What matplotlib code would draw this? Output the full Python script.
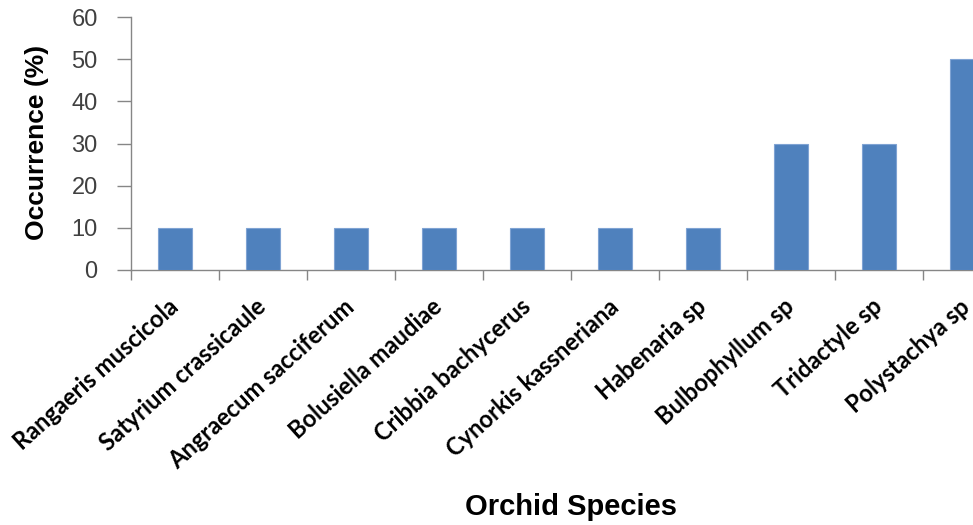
import matplotlib.pyplot as plt
import numpy as np

species = ['Rangaeris muscicola', 'Satyrium crassicaule', 'Angraecum sacciferum',
           'Bolusiella maudiae', 'Cribbia bachycerus', 'Cynorkis kassneriana',
           'Habenaria sp', 'Bulbophyllum sp', 'Tridactyle sp', 'Polystachya sp']
occurrence = [10, 10, 10, 10, 10, 10, 10, 30, 30, 50]
yticks = [0, 10, 20, 30, 40, 50, 60]

axis_col = '#868686'

fig = plt.figure(figsize=(9.73, 5.25), dpi=100)
# axes runs off the right edge like in the original
ax = fig.add_axes([131/973, 255/525, 880/973, 253/525])

x = np.arange(len(species))
ax.bar(x, occurrence, width=0.39, color='#4F81BD', edgecolor='#7FA3D3', linewidth=0.8, zorder=3)

ax.set_xlim(-0.5, len(species) - 0.5)
ax.set_ylim(0, 60)
ax.set_yticks(yticks)
ax.set_yticklabels([str(v) for v in yticks], fontsize=17, color='#404040', family='Liberation Sans')

ax.set_xticks(x)
ax.set_xticklabels(species, rotation=42, ha='right', va='center', rotation_mode='anchor',
                   fontsize=17, fontweight='bold', family='Lato')
ax.set_xticks(np.arange(len(species) + 1) - 0.5, minor=True)
ax.tick_params(axis='x', which='major', length=0, pad=24)
ax.tick_params(axis='x', which='minor', length=7, color=axis_col, width=1)
ax.tick_params(axis='y', length=10, color=axis_col, width=1, pad=14)

for s in ['top', 'right']:
    ax.spines[s].set_visible(False)
for s in ['left', 'bottom']:
    ax.spines[s].set_color(axis_col)
    ax.spines[s].set_linewidth(1)

fig.text(37/973, 1 - 142/525, 'Occurrence (%)', fontsize=19, fontweight='bold',
         family='Liberation Sans', rotation=90, ha='center', va='center')
fig.text(571/973, 1 - 507/525, 'Orchid Species', fontsize=21, fontweight='bold',
         family='Liberation Sans', ha='center', va='center')

fig.savefig('out.png', dpi=100)
